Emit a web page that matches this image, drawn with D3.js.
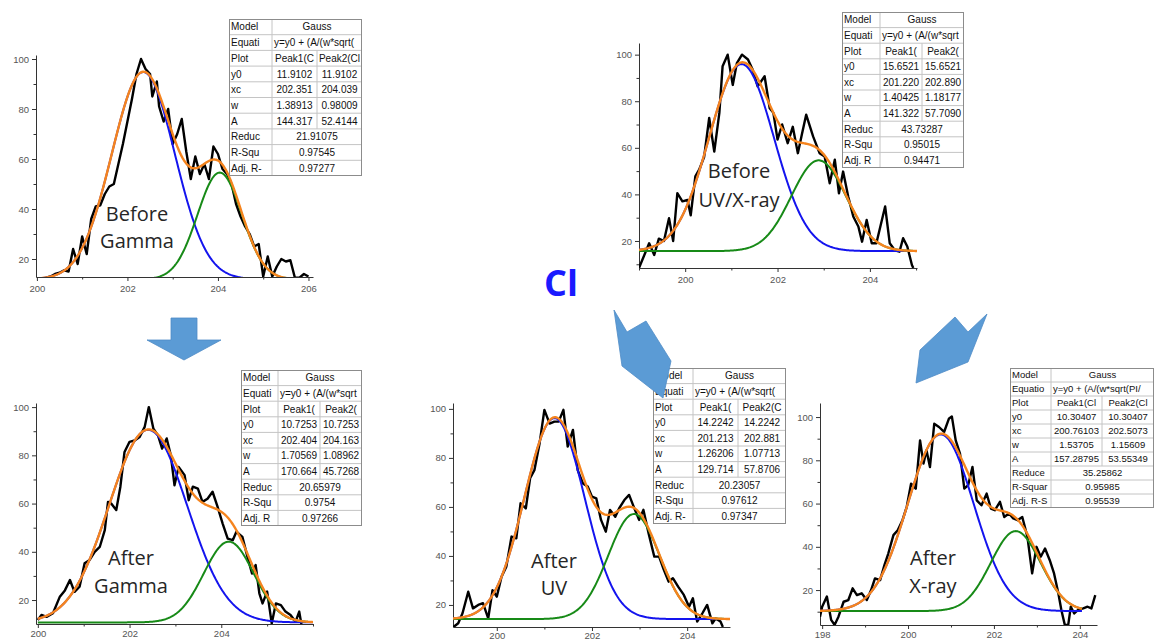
<!DOCTYPE html>
<html>
<head>
<meta charset="utf-8">
<script src="https://cdn.jsdelivr.net/npm/d3@7"></script>
<style>
  body { margin: 0; background: #fff; }
  svg { display: block; font-family: "Liberation Sans", Arial, sans-serif; }
  .axis .domain, .axis .tick line { stroke: #333; }
  .axis .tick text { fill: #555; font-size: 9.5px; font-family: "Liberation Sans", Arial, sans-serif; }
</style>
</head>
<body>
<svg width="1161" height="641"></svg>
<script>
const svg = d3.select("svg");

const beforeGammaData = [
  [200.2,12.5],[200.3,13],[200.4,14],[200.5,14.5],[200.6,15.5],[200.7,15],[200.8,24],[200.9,18],
  [201.0,29],[201.1,22],[201.2,36],[201.3,41],[201.4,41.5],[201.5,46],[201.6,49],[201.7,50],
  [201.8,58],[201.9,66],[202.0,75],[202.1,84],[202.2,94],[202.3,100],[202.4,96],[202.5,94],
  [202.55,85],[202.65,91],[202.7,81],[202.8,75],[202.9,80],[203.0,66],[203.1,70],[203.2,76],
  [203.3,63],[203.4,52],[203.5,61],[203.6,54],[203.7,58],[203.8,52],[203.9,65],[204.0,62],
  [204.1,56],[204.2,54],[204.3,50],[204.4,42],[204.5,37],[204.6,33],[204.7,30],[204.8,25],
  [204.9,26],[205.0,13],[205.1,21],[205.2,13],[205.3,17],[205.4,20],[205.5,19],[205.6,19.5],
  [205.7,12.5],[205.8,12.5],[205.9,14],[206.0,13]
];
const beforeUvXrayData = [
  [199.0,8.4],[199.22,19],[199.33,14],[199.43,21],[199.54,20],[199.65,29.8],[199.74,20],[199.83,40.5],
  [199.94,37],[200.05,37.6],[200.12,31],[200.22,47.7],[200.3,50.5],[200.41,56],[200.52,72.8],[200.63,58.4],
  [200.74,75],[200.81,95],[200.92,100],[201.03,87],[201.12,96.4],[201.23,100],[201.36,97.9],[201.46,93.6],
  [201.57,86.4],[201.72,90.7],[201.83,77],[201.91,75],[202.0,63.5],[202.1,70],[202.22,62],[202.33,69],
  [202.44,57.7],[202.53,66],[202.62,74.2],[202.77,64.9],[202.91,57.7],[203.02,56.3],[203.13,44.8],[203.24,54.9],
  [203.33,40.5],[203.42,49.8],[203.53,39.1],[203.64,30.5],[203.75,26.2],[203.83,19.7],[203.93,29],[204.04,19],
  [204.14,19],[204.33,34.8],[204.43,19],[204.54,16],[204.64,15.4],[204.72,21.2],[204.81,17.6],[204.91,9.7],
  [204.94,8.4]
];
const afterGammaData = [
  [200.0,11.7],[200.08,13.8],[200.19,13],[200.33,14.5],[200.48,21.4],[200.59,24],[200.7,28.3],[200.8,23.4],
  [200.91,25.5],[201.02,35.2],[201.13,36.6],[201.24,40],[201.35,42],[201.46,49],[201.53,60.7],[201.6,60],
  [201.71,57.3],[201.8,67],[201.89,81.4],[202.0,85.6],[202.11,86.2],[202.22,87.6],[202.33,91.8],[202.42,100],
  [202.52,91],[202.62,88.3],[202.71,82.8],[202.81,87],[202.9,80],[202.98,67.6],[203.07,75.2],[203.2,71.8],
  [203.29,61.4],[203.38,67],[203.49,66.2],[203.59,60.7],[203.7,62],[203.81,64.9],[203.92,58.6],[204.03,51.7],
  [204.14,45.5],[204.25,44.8],[204.33,48.3],[204.46,46.2],[204.57,38],[204.67,31],[204.75,34.5],[204.83,22.8],
  [204.9,18.6],[205.0,23.5],[205.1,10.3],[205.19,18.6],[205.3,17.9],[205.4,15.2],[205.51,13.8],[205.62,11],
  [205.7,15.2],[205.75,9.6]
];
const afterUvData = [
  [199.09,11],[199.19,12.5],[199.28,16.6],[199.4,25.4],[199.5,18.6],[199.61,20],[199.71,20.7],[199.82,14.5],
  [199.91,26],[200.0,23.4],[200.1,31.5],[200.2,35.6],[200.31,47.9],[200.41,47.2],[200.5,61.5],[200.61,59.4],
  [200.7,71.7],[200.79,75],[200.9,86],[201.0,99.6],[201.11,94],[201.21,94.8],[201.3,94.8],[201.4,99.6],
  [201.49,84.6],[201.6,91.4],[201.7,75],[201.81,69.6],[201.91,68.3],[202.0,64.2],[202.09,63.5],[202.19,54.7],
  [202.29,49.9],[202.38,58.8],[202.49,56],[202.57,59.4],[202.68,62.8],[202.78,64.9],[202.89,59.4],[202.99,54.7],
  [203.08,58.8],[203.19,49.2],[203.31,39.7],[203.41,39.7],[203.51,34.3],[203.61,29.5],[203.7,30.9],[203.81,27.5],
  [203.93,24.1],[204.04,19.3],[204.12,22.7],[204.21,13.2],[204.32,16.6],[204.42,20],[204.53,12.5],[204.6,14.5],
  [204.7,13.2],[204.75,11]
];
const afterXrayData = [
  [197.95,7.7],[198.0,12.3],[198.11,17],[198.21,6.2],[198.29,3.9],[198.38,7.7],[198.5,14.6],[198.61,15.4],
  [198.71,20.8],[198.81,17.7],[198.92,18.5],[199.04,15.4],[199.14,20],[199.23,25.4],[199.35,24.6],[199.45,31.5],
  [199.54,36.9],[199.66,45.4],[199.76,47.7],[199.87,52.3],[199.97,58.5],[200.07,69.2],[200.18,66.9],[200.28,89.2],
  [200.36,78.5],[200.43,84.6],[200.51,76.9],[200.61,96.9],[200.72,95.4],[200.84,93.1],[200.95,99.2],[201.02,100.3],
  [201.11,89.2],[201.21,83.1],[201.31,66.9],[201.4,68.5],[201.5,76.9],[201.6,61.5],[201.71,59.2],[201.83,64.6],
  [201.93,57.7],[202.02,56.9],[202.14,60.8],[202.24,53.8],[202.35,55.4],[202.45,53.1],[202.55,52.3],[202.66,53.8],
  [202.78,44.6],[202.89,27.7],[202.99,40],[203.09,35.4],[203.19,39.2],[203.3,33.8],[203.4,27.7],[203.5,18.5],
  [203.57,10.8],[203.65,3.9],[203.73,3.9],[203.79,12.3],[203.87,9.2],[203.96,10.8],[204.08,11.5],[204.18,12.3],
  [204.27,11.5],[204.36,17.7]
];

// ---- fit result tables, as printed (Gauss: y0, xc, w, A) ----
const beforeGammaTable = [
  ["Model","Gauss"],["Equati","y=y0 + (A/(w*sqrt("],["Plot","Peak1(C","Peak2(Cl"],
  ["y0","11.9102","11.9102"],["xc","202.351","204.039"],["w","1.38913","0.98009"],
  ["A","144.317","52.4144"],["Reduc","21.91075"],["R-Squ","0.97545"],["Adj. R-","0.97277"]
];
const beforeUvXrayTable = [
  ["Model","Gauss"],["Equati","y=y0 + (A/(w*sqrt"],["Plot","Peak1(","Peak2("],
  ["y0","15.6521","15.6521"],["xc","201.220","202.890"],["w","1.40425","1.18177"],
  ["A","141.322","57.7090"],["Reduc","43.73287"],["R-Squ","0.95015"],["Adj. R","0.94471"]
];
const afterGammaTable = [
  ["Model","Gauss"],["Equati","y=y0 + (A/(w*sqrt"],["Plot","Peak1(","Peak2("],
  ["y0","10.7253","10.7253"],["xc","202.404","204.163"],["w","1.70569","1.08962"],
  ["A","170.664","45.7268"],["Reduc","20.65979"],["R-Squ","0.9754"],["Adj. R","0.97266"]
];
const afterUvTable = [
  ["Model","Gauss"],["Equati","y=y0 + (A/(w*sqrt("],["Plot","Peak1(","Peak2(C"],
  ["y0","14.2242","14.2242"],["xc","201.213","202.881"],["w","1.26206","1.07713"],
  ["A","129.714","57.8706"],["Reduc","20.23057"],["R-Squ","0.97612"],["Adj. R-","0.97347"]
];
const afterXrayTable = [
  ["Model","Gauss"],["Equatio","y=y0 + (A/(w*sqrt(PI/"],["Plot","Peak1(Cl","Peak2(Cl"],
  ["y0","10.30407","10.30407"],["xc","200.76103","202.5073"],["w","1.53705","1.15609"],
  ["A","157.28795","53.55349"],["Reduce","35.25862"],["R-Squar","0.95985"],["Adj. R-S","0.95539"]
];

// ---- tick labels ----
const xTicksGamma = [200, 202, 204, 206];
const xTicksAfterGamma = [200, 202, 204];
const xTicksUv = [200, 202, 204];
const xTicksXray = [198, 200, 202, 204];
const yTicks = [20, 40, 60, 80, 100];
const yMinorTicks = [10, 30, 50, 70, 90];

const panelLabels = [["Before","Gamma"],["Before","UV/X-ray"],["After","Gamma"],["After","UV"],["After","X-ray"]];

// ---- layout of the five panels ----
const panels = [
  { data: beforeGammaData, table: beforeGammaTable, label: panelLabels[0], xTicks: xTicksGamma,
    left: 36, right: 313, top: 55, bottom: 277, xDomain: [199.98, 206.1], yDomain: [12.8, 101.6],
    curve: [200, 206.05], labelX: 137, labelY: [221, 248], pad: 4,
    tab: { x: 229, y: 19, colW: [43, 45, 45], rowH: 15.7, fs: 10 } },
  { data: beforeUvXrayData, table: beforeUvXrayTable, label: panelLabels[1], xTicks: xTicksUv,
    left: 639, right: 917, top: 43, bottom: 268, xDomain: [199, 205.02], yDomain: [8.4, 105],
    curve: [199, 205.02], labelX: 739, labelY: [178, 207], pad: 4,
    tab: { x: 842, y: 12, colW: [38, 42, 42], rowH: 15.6, fs: 10 } },
  { data: afterGammaData, table: afterGammaTable, label: panelLabels[2], xTicks: xTicksAfterGamma,
    left: 36, right: 313, top: 403, bottom: 624, xDomain: [199.96, 206], yDomain: [10.06, 101.7],
    curve: [200, 206], labelX: 131, labelY: [565, 593], pad: 2,
    tab: { x: 241, y: 370, colW: [37, 42, 42], rowH: 15.6, fs: 10 } },
  { data: afterUvData, table: afterUvTable, label: panelLabels[3], xTicks: xTicksUv,
    left: 453, right: 730, top: 403, bottom: 627, xDomain: [199.08, 204.9], yDomain: [11, 102.4],
    curve: [199.08, 204.9], labelX: 554, labelY: [568, 595], pad: 1,
    tab: { x: 653, y: 368, colW: [40, 45, 48], rowH: 15.6, fs: 10 } },
  { data: afterXrayData, table: afterXrayTable, label: panelLabels[4], xTicks: xTicksXray,
    left: 820, right: 1097, top: 403, bottom: 625, xDomain: [197.95, 204.4], yDomain: [3.85, 106.5],
    curve: [197.95, 204.05], labelX: 933, labelY: [565, 593], pad: 2,
    tab: { x: 1010, y: 368, colW: [41, 51, 52], rowH: 14, fs: 9.5 } }
];

// Gauss model printed in the tables: y = y0 + A/(w*sqrt(PI/2)) * exp(-2*((x-xc)/w)^2)
function gaussPeak(x, xc, w, A) {
  return A / (w * Math.sqrt(Math.PI / 2)) * Math.exp(-2 * Math.pow((x - xc) / w, 2));
}
function fitFromTable(t) {
  const row = k => t.find(r => r[0] === k);
  return {
    y0: +row("y0")[1],
    p1: { xc: +row("xc")[1], w: +row("w")[1], A: +row("A")[1] },
    p2: { xc: +row("xc")[2], w: +row("w")[2], A: +row("A")[2] }
  };
}

function drawPanel(p, i) {
  const x = d3.scaleLinear().domain(p.xDomain).range([p.left, p.right]);
  const y = d3.scaleLinear().domain(p.yDomain).range([p.bottom, p.top]);
  const g = svg.append("g");

  g.append("clipPath").attr("id", "clip" + i)
    .append("rect").attr("x", p.left).attr("y", p.top - 6)
    .attr("width", p.right - p.left + 4).attr("height", p.bottom - p.top + 6);

  // axes: minor ticks first, then majors with labels
  const xMinor = d3.range(Math.ceil(p.xDomain[0]), Math.floor(p.xDomain[1]) + 1).filter(v => p.xTicks.indexOf(v) < 0);
  g.append("g").attr("class", "axis").attr("transform", `translate(0,${p.bottom})`)
    .call(d3.axisBottom(x).tickValues(xMinor).tickSize(2.5).tickFormat(""))
    .select(".domain").remove();
  g.append("g").attr("class", "axis").attr("transform", `translate(0,${p.bottom})`)
    .call(d3.axisBottom(x).tickValues(p.xTicks).tickSize(4).tickPadding(p.pad).tickSizeOuter(0).tickFormat(d3.format("d")));

  const yMinor = yMinorTicks.filter(v => v >= p.yDomain[0] && v <= p.yDomain[1]);
  g.append("g").attr("class", "axis").attr("transform", `translate(${p.left},0)`)
    .call(d3.axisLeft(y).tickValues(yMinor).tickSize(2.5).tickFormat(""))
    .select(".domain").remove();
  g.append("g").attr("class", "axis").attr("transform", `translate(${p.left},0)`)
    .call(d3.axisLeft(y).tickValues(yTicks).tickSize(4).tickPadding(3).tickSizeOuter(0));

  const plot = g.append("g").attr("clip-path", `url(#clip${i})`);
  const line = d3.line().x(d => x(d[0])).y(d => y(d[1]));

  plot.append("path").datum(p.data)
    .attr("fill", "none").attr("stroke", "#000").attr("stroke-width", 2.4)
    .attr("stroke-linejoin", "round").attr("d", line);

  const fit = fitFromTable(p.table);
  const xs = d3.range(p.curve[0], p.curve[1] + 1e-9, 0.02);
  const peak1 = xs.map(v => [v, fit.y0 + gaussPeak(v, fit.p1.xc, fit.p1.w, fit.p1.A)]);
  const peak2 = xs.map(v => [v, fit.y0 + gaussPeak(v, fit.p2.xc, fit.p2.w, fit.p2.A)]);
  const sum = xs.map(v => [v, fit.y0 + gaussPeak(v, fit.p1.xc, fit.p1.w, fit.p1.A) + gaussPeak(v, fit.p2.xc, fit.p2.w, fit.p2.A)]);

  [[peak1, "#1414ee", 2], [peak2, "#178a17", 2], [sum, "#f5841e", 2.4]].forEach(([d, c, sw]) => {
    plot.append("path").datum(d)
      .attr("fill", "none").attr("stroke", c).attr("stroke-width", sw).attr("d", line);
  });

  p.label.forEach((t, k) => {
    g.append("text")
      .attr("x", p.labelX).attr("y", p.labelY[k])
      .attr("text-anchor", "middle")
      .style("font-family", "'Open Sans', sans-serif").style("font-size", "20px")
      .attr("fill", "#262626")
      .text(t);
  });
}

function drawTable(spec, rows, i) {
  const g = svg.append("g").attr("transform", `translate(${spec.x},${spec.y})`);
  const W = d3.sum(spec.colW);
  const H = rows.length * spec.rowH;
  const cx = [0, spec.colW[0], spec.colW[0] + spec.colW[1], W];

  g.append("clipPath").attr("id", "tclip" + i).append("rect").attr("width", W).attr("height", H);
  g.append("rect").attr("width", W).attr("height", H).attr("fill", "#fff");
  const body = g.append("g").attr("clip-path", `url(#tclip${i})`);

  rows.forEach((r, j) => {
    const top = j * spec.rowH;
    if (j > 0) body.append("line").attr("x1", 0).attr("x2", W).attr("y1", top).attr("y2", top)
      .attr("stroke", "#c4c4c4").attr("stroke-width", 1);
    const cells = r.length === 2
      ? [[r[0], cx[0], cx[1]], [r[1], cx[1], cx[3]]]
      : [[r[0], cx[0], cx[1]], [r[1], cx[1], cx[2]], [r[2], cx[2], cx[3]]];
    cells.forEach(([t, a, b], k) => {
      if (k > 0) body.append("line").attr("x1", a).attr("x2", a).attr("y1", top).attr("y2", top + spec.rowH)
        .attr("stroke", "#c4c4c4").attr("stroke-width", 1);
      const leftAlign = k === 0 || /^Equat/.test(r[0]);
      body.append("text")
        .attr("x", leftAlign ? a + 2 : (a + b) / 2)
        .attr("y", top + spec.rowH / 2 + spec.fs * 0.36)
        .attr("text-anchor", leftAlign ? "start" : "middle")
        .style("font-size", spec.fs + "px")
        .attr("fill", "#111")
        .text(t);
    });
  });

  g.append("rect").attr("x", 0.5).attr("y", 0.5).attr("width", W - 1).attr("height", H - 1)
    .attr("fill", "none").attr("stroke", "#8c8c8c").attr("stroke-width", 1);
}

panels.forEach((p, i) => {
  drawPanel(p, i);
  drawTable(p.tab, p.table, i);
});

// centre label
svg.append("text")
  .attr("x", 544).attr("y", 296)
  .style("font-family", "'Open Sans', sans-serif").style("font-size", "36px").style("font-weight", "bold")
  .attr("fill", "#1a1aff")
  .text("Cl");

// blue arrows (decoration)
const arrowShapes = [
  [[171,318],[197,318],[197,340],[221,340],[184,360],[147,340],[171,340]],
  [[614,310],[627,332],[646,321],[671,361],[663,398],[622,366]],
  [[955,317],[968,332],[987,314],[968,362],[916,383],[920,350]]
];
arrowShapes.forEach(pts => {
  svg.append("path")
    .attr("d", d3.line()(pts) + "Z")
    .attr("fill", "#5b9bd5")
    .attr("stroke", "#4f8bc6")
    .attr("stroke-width", 0.8);
});
</script>
</body>
</html>
